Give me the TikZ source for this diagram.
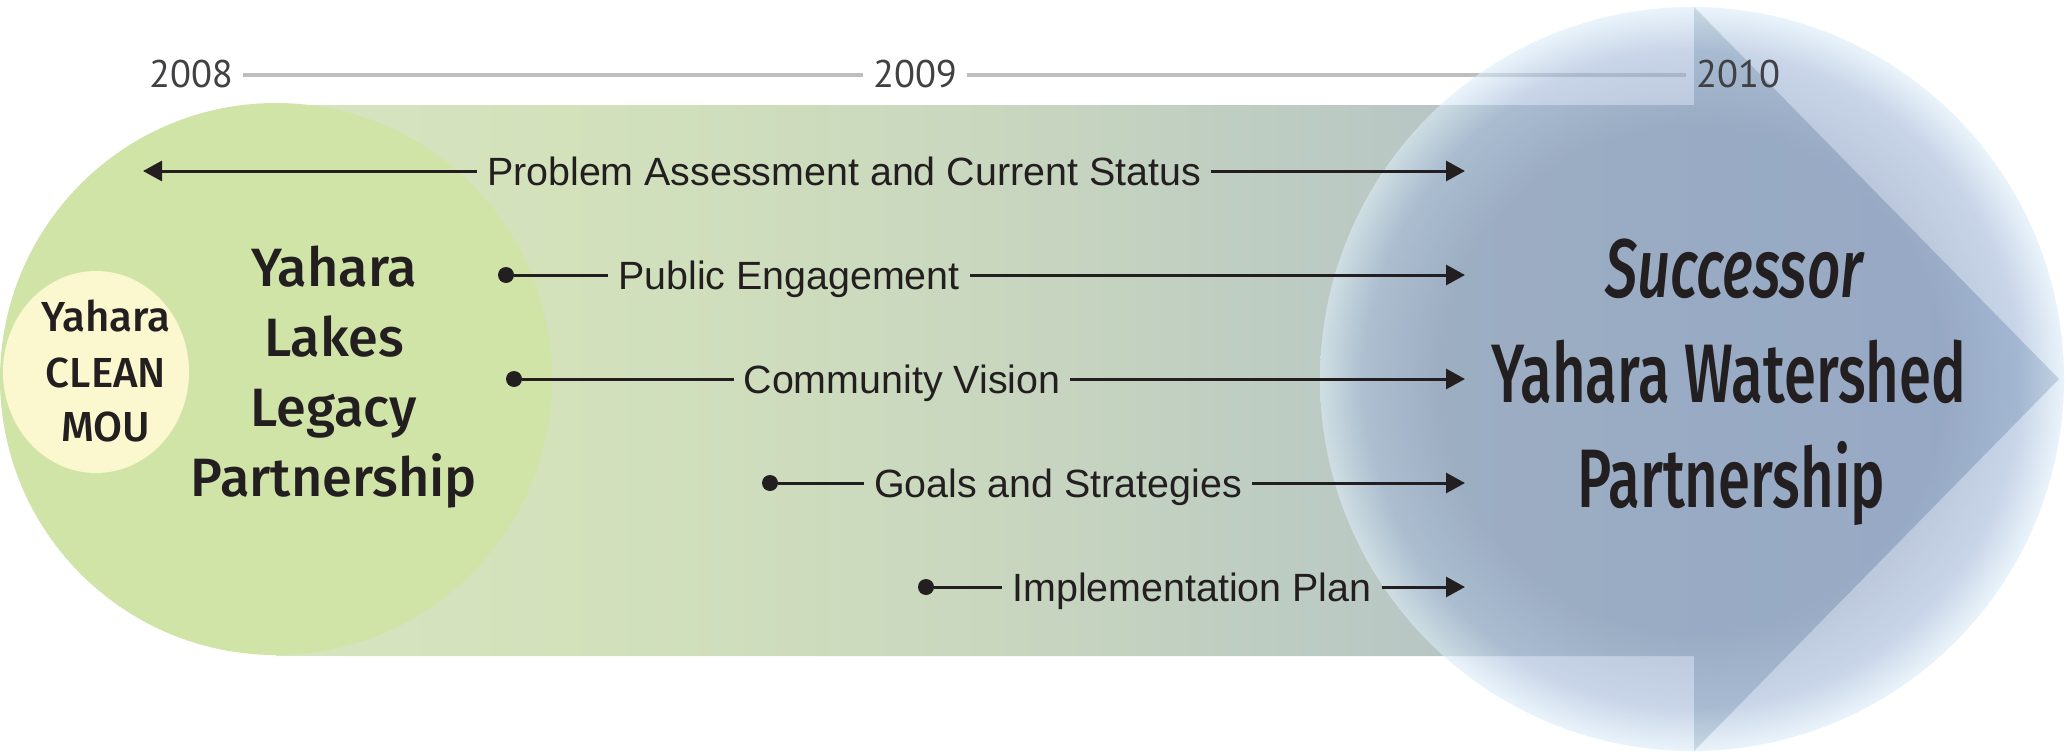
\documentclass[tikz,border=0pt]{standalone}
\usepackage{fontspec}
\setmainfont{Liberation Sans}
\newfontfamily\handfont{Fira Sans Medium}[ItalicFont={Fira Sans Medium Italic}]
\newfontfamily\yearfont{PT Sans}
\usetikzlibrary{arrows.meta}
\definecolor{greenc}{HTML}{D1E4A8}
\definecolor{yellowc}{HTML}{FBF8CF}
\definecolor{txt}{HTML}{231F20}
\definecolor{yeartxt}{HTML}{414042}
\definecolor{tline}{HTML}{BCBEC0}
\definecolor{bA}{HTML}{D6E4C0}
\definecolor{bB}{HTML}{D3E2BB}
\definecolor{bC}{HTML}{C9D7BF}
\definecolor{bD}{HTML}{B7C6C4}
\definecolor{bE}{HTML}{AEBFC7}
\definecolor{bF}{HTML}{A4B5C9}
\definecolor{cA}{HTML}{8C9FC2}
\definecolor{cB}{HTML}{A3B8D8}
\definecolor{cC}{HTML}{DCECF8}
\pgfdeclarehorizontalshading{bandshade}{100bp}{color(0bp)=(bA); color(25bp)=(bA); color(33bp)=(bB); color(45bp)=(bC); color(57.6bp)=(bD); color(64.8bp)=(bE); color(75bp)=(bF); color(100bp)=(bF)}
\pgfdeclareradialshading{bluecirc}{\pgfpoint{0bp}{0bp}}{color(0bp)=(cA); color(17bp)=(cA); color(22bp)=(cB); color(25bp)=(cC); color(50bp)=(cC)}
\pgfdeclarelayer{bg}
\pgfdeclarelayer{mid}
\pgfsetlayers{bg,mid,main}
\tikzset{
  year/.style={font=\yearfont\fontsize{38.5}{42}\selectfont, text=yeartxt, inner sep=0pt, outer xsep=10pt, text height=26pt, text depth=0pt},
  tl/.style={draw=tline, line width=4pt},
  lbl/.style={font=\fontsize{39.4}{46}\selectfont, text=txt, inner sep=0pt, outer xsep=10pt, text height=28pt, text depth=0pt},
  conn/.style={draw=txt, line width=3pt},
  arr/.style={conn, -{Triangle[length=19pt,width=20pt]}},
  dotnode/.style={circle, fill=txt, minimum size=16pt, inner sep=0pt},
  small/.style={font=\handfont\fontsize{42}{46}\selectfont, text=txt, inner sep=0pt, anchor=base},
  mediumtxt/.style={font=\handfont\fontsize{54}{60}\selectfont, text=txt, inner sep=0pt, anchor=base},
  bigtxt/.style={font=\handfont\fontsize{83}{90}\selectfont, text=txt, inner sep=0pt, anchor=base},
}
\begin{document}
\begin{tikzpicture}[x=1pt,y=-1pt]
\useasboundingbox (0,0) rectangle (2070,752);
\begin{pgfonlayer}{bg}
  \shade[shading=bandshade] (276,105) -- (1694,105) -- (1694,7) -- (2059,379) -- (1694,751) -- (1694,656) -- (276,656) -- cycle;
  \fill[greenc] (276,379) circle (276);
  \fill[yellowc] (96,372) ellipse [x radius=93, y radius=101];
\end{pgfonlayer}
\begin{pgfonlayer}{mid}
  \shade[shading=bluecirc, fill opacity=0.6] (1692,379) circle (372);
\end{pgfonlayer}
% timeline
\node[year] (y8) at (191,75) {2008};
\node[year] (y9) at (915,75) {2009};
\node[year] (y10) at (1738,75) {2010};
\begin{pgfonlayer}{bg}
  \draw[tl] (y8) -- (y9);
  \draw[tl] (y9) -- (y10);
\end{pgfonlayer}
% left texts
\node[small] (yc1) at (106,331) {Yahara};
\node[small] (yc2) at (106,387) {CLEAN};
\node[small] (yc3) at (106,441) {MOU};
\node[mediumtxt] (lp1) at (334,286) {Yahara};
\node[mediumtxt] (lp2) at (334,356) {Lakes};
\node[mediumtxt] (lp3) at (334,426) {Legacy};
\node[mediumtxt] (lp4) at (334,496) {Partnership};
% right texts
\node[bigtxt] (sp1) at (1734,297) {\scalebox{0.70}[1]{\itshape Successor}};
\node[bigtxt] (sp2) at (1729,402) {\scalebox{0.70}[1]{Yahara Watershed}};
\node[bigtxt] (sp3) at (1731,507) {\scalebox{0.70}[1]{Partnership}};
% rows
\node[lbl] (t1) at (844,171) {Problem Assessment and Current Status};
\coordinate (L1) at (143,171);
\coordinate (R1) at (1465,171);
\draw[arr] (t1.west) -- (L1);
\draw[arr] (t1.east) -- (R1);
\node[lbl] (t2) at (789,275) {Public Engagement};
\node[dotnode] (d2) at (506,275) {};
\coordinate (R2) at (1465,275);
\draw[conn] (d2) -- (t2.west);
\draw[arr] (t2.east) -- (R2);
\node[lbl] (t3) at (902,379) {Community Vision};
\node[dotnode] (d3) at (514,379) {};
\coordinate (R3) at (1465,379);
\draw[conn] (d3) -- (t3.west);
\draw[arr] (t3.east) -- (R3);
\node[lbl] (t4) at (1058,483) {Goals and Strategies};
\node[dotnode] (d4) at (770,483) {};
\coordinate (R4) at (1465,483);
\draw[conn] (d4) -- (t4.west);
\draw[arr] (t4.east) -- (R4);
\node[lbl] (t5) at (1192,587) {Implementation Plan};
\node[dotnode] (d5) at (926,587) {};
\coordinate (R5) at (1465,587);
\draw[conn] (d5) -- (t5.west);
\draw[arr] (t5.east) -- (R5);
\end{tikzpicture}
\end{document}
